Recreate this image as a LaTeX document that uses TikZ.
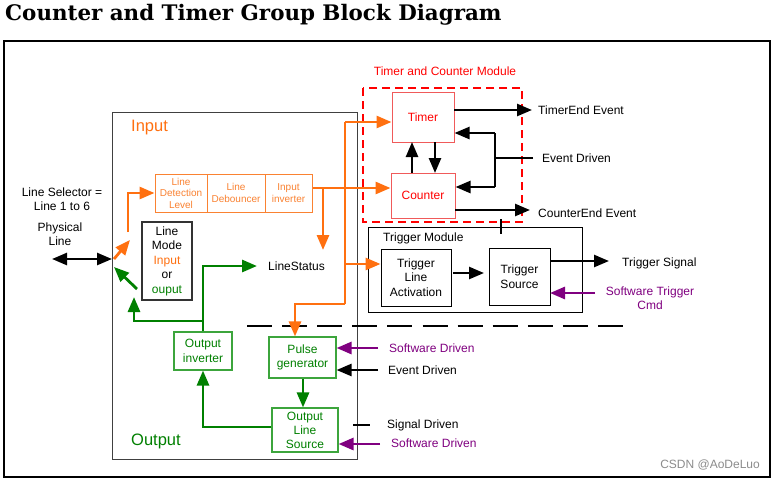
\documentclass[tikz,border=0pt]{standalone}
\usepackage{fontspec}
\setmainfont{Liberation Sans}
\newfontfamily\titlefont{DejaVu Serif}
\usetikzlibrary{arrows.meta}
\definecolor{myorange}{RGB}{255,112,16}
\definecolor{lorange}{RGB}{250,130,50}
\definecolor{mygreen}{RGB}{0,128,0}
\definecolor{lgreen}{RGB}{60,165,60}
\definecolor{mypurple}{RGB}{128,0,128}
\definecolor{myred}{RGB}{255,0,0}
\definecolor{lred}{RGB}{240,90,90}
\begin{document}
\begin{tikzpicture}[x=1pt,y=-1pt,
  txt/.style={font=\fontsize{12}{14.5}\selectfont, align=center, inner sep=0pt},
  ltxt/.style={txt, anchor=west},
  blk/.style={txt, draw=black, line width=0.9pt},
  chainbox/.style={draw=lorange, line width=1pt, text=lorange, align=center, inner sep=0pt,
     font=\fontsize{10}{11.5}\selectfont, minimum height=38pt},
  gbox/.style={txt, draw=lgreen, line width=1.1pt, text=mygreen},
  rbox/.style={txt, draw=lred, line width=1pt, text=myred},
  tip/.tip={Triangle[length=15pt,width=12pt]},
  barr/.style={line width=2.5pt, -tip},
  oarr/.style={line width=2.8pt, draw=myorange, -tip},
  oline/.style={line width=2.8pt, draw=myorange},
  garr/.style={line width=2.8pt, draw=mygreen, -tip},
  gline/.style={line width=2.8pt, draw=mygreen},
  parr/.style={line width=2.8pt, draw=mypurple, -tip},
]
\useasboundingbox (0,0) rectangle (775,480);
\fill[white] (0,0) rectangle (775,480);

% title
\node[anchor=west, inner sep=0pt, font=\titlefont\bfseries\fontsize{21.4}{24}\selectfont] (title) at (5,15) {Counter and Timer Group Block Diagram};

% outer frame
\draw[line width=1.2pt] (4,41) rectangle (770,477);

% input/output block
\node[draw=black!75, line width=0.8pt, minimum width=245pt, minimum height=347pt, inner sep=0pt] (io) at (234.5,285.5) {};
\node[anchor=west, inner sep=0pt, text=myorange, font=\fontsize{16.5}{18}\selectfont] (inlab) at (131,128) {Input};
\node[anchor=west, inner sep=0pt, text=mygreen, font=\fontsize{16.5}{18}\selectfont] (outlab) at (131,441) {Output};

% input chain
\node[chainbox, minimum width=52pt] (ldl) at (181,193) {Line\\Detection\\Level};
\node[chainbox, minimum width=58pt] (ldb) at (236,193) {Line\\Debouncer};
\node[chainbox, minimum width=47pt] (inv) at (288.5,193) {Input\\inverter};

% line mode
\node[blk, draw=black!80, line width=1.2pt, minimum width=50pt, minimum height=78pt] (lm) at (167,261)
  {Line\\Mode\\\textcolor{myorange}{Input}\\or\\\textcolor{mygreen}{ouput}};

% left labels
\node[txt] (sel) at (62,199) {Line Selector =\\Line 1 to 6};
\node[txt] (phys) at (60,234) {Physical\\Line};
\node[ltxt] (ls) at (268,266) {LineStatus};

% timer & counter module
\node[txt, text=myred] (tcmlab) at (445,71) {Timer and Counter Module};
\draw[myred, line width=1.2pt, dash pattern=on 8pt off 5pt] (363,88) rectangle (522,222);
\node[rbox, minimum width=62pt, minimum height=50pt] (timer) at (423,117) {Timer};
\node[rbox, minimum width=64pt, minimum height=45pt] (counter) at (423,195.5) {Counter};
\node[ltxt] (tee) at (538,110) {TimerEnd Event};
\node[ltxt] (ed1) at (542,158) {Event Driven};
\node[ltxt] (cee) at (538,213) {CounterEnd Event};

% trigger module
\draw[line width=0.9pt] (368,227) rectangle (582,312);
\node[ltxt] (tmlab) at (383,238) {Trigger Module};
\node[blk, minimum width=70pt, minimum height=57pt] (tla) at (416,277.5) {Trigger\\Line\\Activation};
\node[blk, minimum width=61pt, minimum height=57pt] (ts) at (519.5,276.5) {Trigger\\Source};
\node[ltxt] (tsig) at (622,263) {Trigger Signal};
\node[txt, text=mypurple] (stc) at (650,298) {Software Trigger\\Cmd};

% output side
\node[gbox, minimum width=58pt, minimum height=38pt] (oinv) at (203,351) {Output\\inverter};
\node[gbox, minimum width=67pt, minimum height=41pt] (pg) at (302.5,357.5) {Pulse\\generator};
\node[gbox, minimum width=66pt, minimum height=44pt, font=\fontsize{12}{14}\selectfont] (ols) at (305,430) {Output\\Line\\Source};
\node[ltxt, text=mypurple] (sd1) at (389,348) {Software Driven};
\node[ltxt] (ed2) at (388,370) {Event Driven};
\node[ltxt] (sgd) at (387,425) {Signal Driven};
\node[ltxt, text=mypurple] (sd2) at (391,443) {Software Driven};

% watermark
\node[anchor=east, inner sep=0pt, text=black!45, font=\fontsize{12}{14}\selectfont] (wm) at (760,465) {CSDN @AoDeLuo};

% dashed separator
\draw[line width=1.6pt, dash pattern=on 25pt off 10.1pt] (247,326) -- (623,326);

% coordinates
\coordinate (plL) at (52,259);
\coordinate (plR) at (112,259);
\coordinate (oa1) at (114,259);
\coordinate (oa2) at (130,240);
\coordinate (ob) at (128,232);
\coordinate (ga1) at (137,289);
\coordinate (ga2) at (114,267);
\coordinate (gsplit) at (203,321);
\coordinate (gup) at (134,297);
\coordinate (gls) at (257,266);
\coordinate (obr) at (323,188);
\coordinate (olst) at (323,250);
\coordinate (ov) at (345,304);
\coordinate (otop) at (345,122);
\coordinate (omid) at (345,264);
\coordinate (opg) at (295,304);
\coordinate (evsrc) at (533,158);
\coordinate (evx) at (495,158);
\coordinate (evt) at (495,133);
\coordinate (evb) at (495,187);

% physical line
\draw[line width=2.5pt, tip-tip] (plL) -- (plR);
% orange input path
\draw[oarr] (oa1) -- (oa2);
\draw[oarr] (ob) |- (ldl.west);
\draw[oarr] ([yshift=5pt]inv.east) -- ([yshift=7.5pt]counter.west);
\draw[oarr] (obr) -- (olst);
\draw[oline] (ov) -- (otop);
\draw[oarr] (otop) -- ([yshift=-5pt]timer.west);
\draw[oarr] (omid) -- (tla.west |- omid);
\draw[oarr] (ov) -| (opg |- pg.north);
% green output path
\draw[garr] (ga1) -- (ga2);
\draw[garr] (oinv.north) -- (gsplit) |- (gls);
\draw[garr] (gsplit) -| (gup);
\draw[garr] ([xshift=0.5pt]pg.south) -- (ols.north -| 303,0);
\draw[garr] (ols.west |- 0,427) -| (oinv.south);
% timer/counter
\draw[barr] (412,173) -- (412,142);
\draw[barr] (435,142) -- (435,173);
\draw[barr] (454,110) -- (532,110);
\draw[line width=2.5pt] (evsrc) -- (evx);
\draw[line width=2.5pt] (evt) -- (evb);
\draw[barr] (evt) -- (timer.east |- evt);
\draw[barr] (evb) -- (counter.east |- evb);
\draw[barr] (455,210) -- (530,210);
\draw[line width=1.5pt] (501,219) -- (501,234);
% trigger
\draw[barr] (453,273) -- (484,273);
\draw[barr] (550,261) -- (609,261);
\draw[parr] (595,293) -- (550,293);
% pulse generator inputs
\draw[parr] (378,348) -- (pg.east |- 0,348);
\draw[barr] (378,370) -- (pg.east |- 0,370);
\draw[line width=2.5pt] (353,425) -- (370,425);
\draw[parr] (380,444) -- (ols.east |- 0,444);
\end{tikzpicture}
\end{document}
